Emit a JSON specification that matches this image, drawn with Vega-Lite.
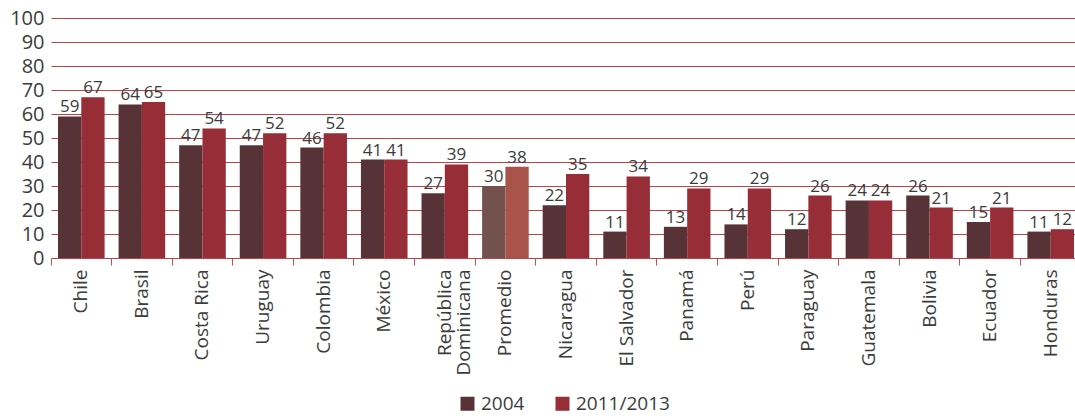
{
  "$schema": "https://vega.github.io/schema/vega-lite/v6.json",
  "width": 1030,
  "height": 240,
  "autosize": {"type": "none"},
  "padding": {"left": 51, "top": 18, "right": 0, "bottom": 158},
  "background": "white",
  "config": {"font": "Open Sans", "view": {"stroke": null}},
  "data": {"values": [
    {"pais": "Chile", "anio": "2004", "valor": 59},
    {"pais": "Chile", "anio": "2011/2013", "valor": 67},
    {"pais": "Brasil", "anio": "2004", "valor": 64},
    {"pais": "Brasil", "anio": "2011/2013", "valor": 65},
    {"pais": "Costa Rica", "anio": "2004", "valor": 47},
    {"pais": "Costa Rica", "anio": "2011/2013", "valor": 54},
    {"pais": "Uruguay", "anio": "2004", "valor": 47},
    {"pais": "Uruguay", "anio": "2011/2013", "valor": 52},
    {"pais": "Colombia", "anio": "2004", "valor": 46},
    {"pais": "Colombia", "anio": "2011/2013", "valor": 52},
    {"pais": "México", "anio": "2004", "valor": 41},
    {"pais": "México", "anio": "2011/2013", "valor": 41},
    {"pais": "República Dominicana", "anio": "2004", "valor": 27},
    {"pais": "República Dominicana", "anio": "2011/2013", "valor": 39},
    {"pais": "Promedio", "anio": "2004", "valor": 30},
    {"pais": "Promedio", "anio": "2011/2013", "valor": 38},
    {"pais": "Nicaragua", "anio": "2004", "valor": 22},
    {"pais": "Nicaragua", "anio": "2011/2013", "valor": 35},
    {"pais": "El Salvador", "anio": "2004", "valor": 11},
    {"pais": "El Salvador", "anio": "2011/2013", "valor": 34},
    {"pais": "Panamá", "anio": "2004", "valor": 13},
    {"pais": "Panamá", "anio": "2011/2013", "valor": 29},
    {"pais": "Perú", "anio": "2004", "valor": 14},
    {"pais": "Perú", "anio": "2011/2013", "valor": 29},
    {"pais": "Paraguay", "anio": "2004", "valor": 12},
    {"pais": "Paraguay", "anio": "2011/2013", "valor": 26},
    {"pais": "Guatemala", "anio": "2004", "valor": 24},
    {"pais": "Guatemala", "anio": "2011/2013", "valor": 24},
    {"pais": "Bolivia", "anio": "2004", "valor": 26},
    {"pais": "Bolivia", "anio": "2011/2013", "valor": 21},
    {"pais": "Ecuador", "anio": "2004", "valor": 15},
    {"pais": "Ecuador", "anio": "2011/2013", "valor": 21},
    {"pais": "Honduras", "anio": "2004", "valor": 11},
    {"pais": "Honduras", "anio": "2011/2013", "valor": 12}
  ]},
  "transform": [
    {"calculate": "datum.pais == 'Promedio' ? 'Promedio ' + datum.anio : datum.anio", "as": "grupo"}
  ],
  "encoding": {
    "x": {
      "field": "pais", "type": "nominal", "sort": null,
      "scale": {"paddingInner": 0, "paddingOuter": 0},
      "axis": {
        "title": null, "labelAngle": -90, "labelFontSize": 19, "labelColor": "#3c3c3c",
        "bandPosition": 0, "ticks": true, "tickColor": "#c0505a", "tickSize": 7,
        "domain": false, "labelPadding": 4, "grid": false, "labelLineHeight": 19,
        "labelExpr": "datum.value == 'República Dominicana' ? ['República', 'Dominicana'] : datum.value"
      }
    },
    "xOffset": {"field": "anio", "type": "nominal", "scale": {"paddingInner": 0, "paddingOuter": 0.3}},
    "y": {
      "field": "valor", "type": "quantitative",
      "scale": {"domain": [0, 100], "nice": false},
      "axis": {
        "title": null, "values": [0,10,20,30,40,50,60,70,80,90,100],
        "grid": true, "gridColor": "#b8444e", "gridWidth": 1, "gridOpacity": 1,
        "domain": false, "ticks": false, "labelFontSize": 20, "labelColor": "#3c3c3c", "labelPadding": 7
      }
    }
  },
  "layer": [
    {
      "mark": {"type": "bar"},
      "encoding": {
        "color": {
          "field": "grupo", "type": "nominal",
          "scale": {
            "domain": ["2004", "2011/2013", "Promedio 2004", "Promedio 2011/2013"],
            "range": ["#573338", "#962d37", "#73514c", "#a9544a"]
          },
          "legend": {
            "title": null, "values": ["2004", "2011/2013"], "orient": "none",
            "direction": "horizontal", "legendX": 407, "legendY": 376,
            "symbolType": "square", "symbolSize": 196, "symbolStrokeWidth": 0,
            "labelFontSize": 19, "labelColor": "#3c3c3c", "labelOffset": 4, "columnPadding": 28
          }
        }
      }
    },
    {
      "mark": {"type": "text", "dy": -4, "baseline": "alphabetic", "fontSize": 17, "color": "#3c3c3c"},
      "encoding": {"text": {"field": "valor", "type": "quantitative"}}
    }
  ]
}
